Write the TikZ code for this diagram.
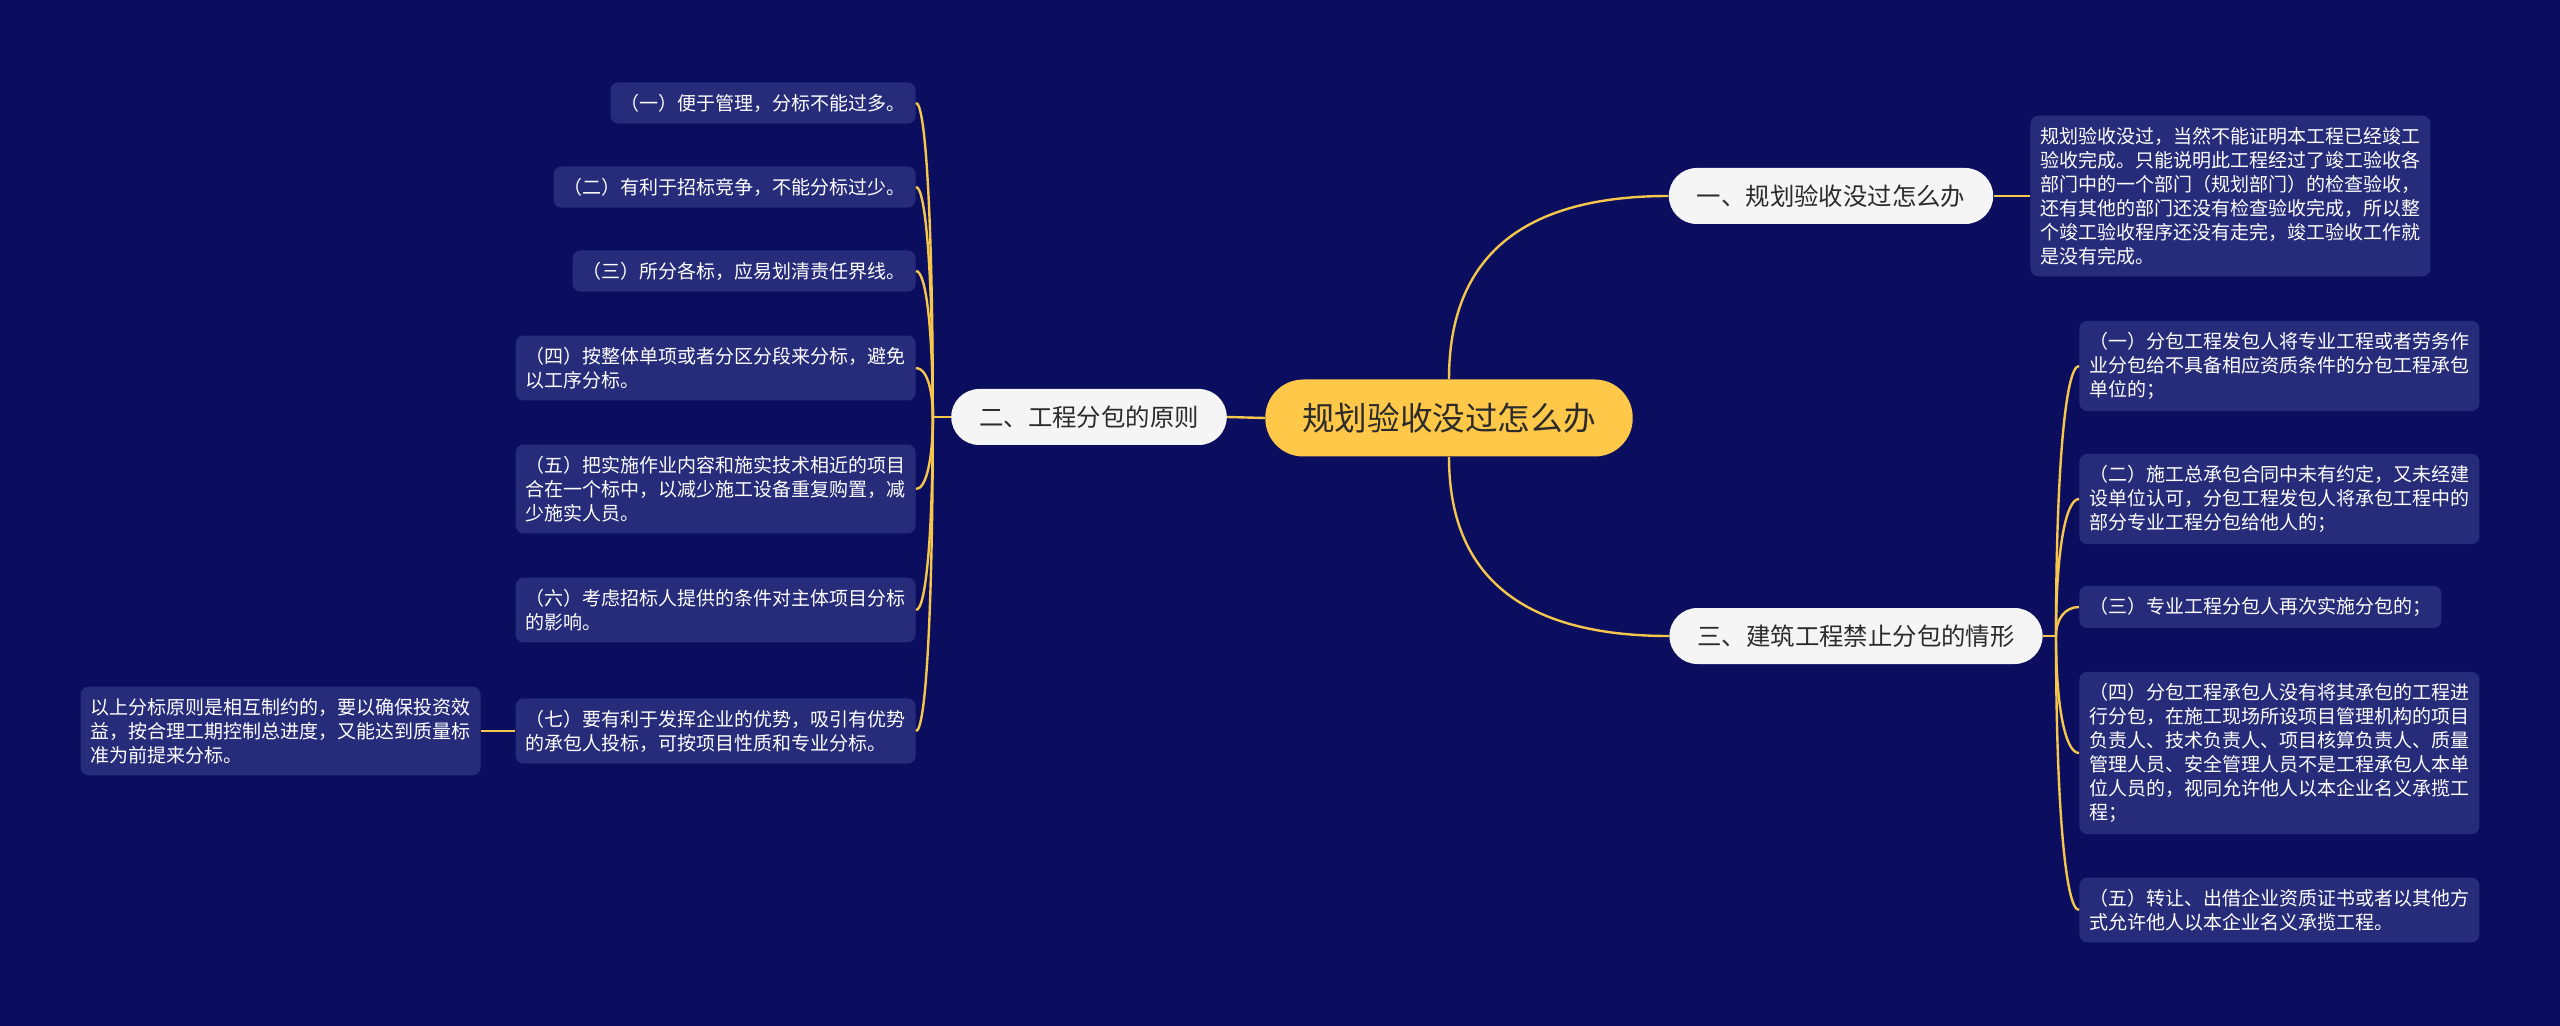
\documentclass[tikz,border=0pt]{standalone}
\usepackage{fontspec}
\setmainfont{Noto Sans CJK SC}
\usetikzlibrary{calc}

\definecolor{bgnavy}{HTML}{0B0E5E}
\definecolor{leafblue}{HTML}{272C7A}
\definecolor{linegold}{HTML}{F4C64C}
\definecolor{rootgold}{HTML}{FFC848}
\definecolor{darktext}{HTML}{2B2B2B}

\begin{document}
\begin{tikzpicture}[
    x=0.5pt, y=-0.5pt,
    rootnode/.style={fill=rootgold, text=darktext, rounded corners=19pt,
        inner xsep=18.5pt, minimum height=38.5pt,
        font=\fontsize{16.3pt}{20pt}\selectfont},
    topic/.style={fill=white!96!black, text=darktext, rounded corners=14pt,
        inner xsep=14pt, minimum height=28pt,
        font=\fontsize{12.2pt}{15pt}\selectfont},
    leaf/.style={fill=leafblue, text=white, rounded corners=4pt, align=left,
        inner xsep=5pt, inner ysep=5.75pt,
        font=\fontsize{9.5pt}{12pt}\selectfont},
    link/.style={draw=linegold, line width=1.2pt},
    soft elbow/.style={to path={
        .. controls ($(\tikztostart)!#1!(\tikztostart |- \tikztotarget)$)
        and ($(\tikztotarget)!#1!(\tikztostart |- \tikztotarget)$)
        .. (\tikztotarget)}},
    soft elbow/.default=0.667
]

% background, fixes the page size
\fill[bgnavy] (0,0) rectangle (2560,1026);

% === Root and main topics ===
\node[rootnode] (root) at (1449,418) {规划验收没过怎么办};
\node[topic] (b1) at (1831,196) {一、规划验收没过怎么办};
\node[topic] (b2) at (1089,417) {二、工程分包的原则};
\node[topic] (b3) at (1856,636) {三、建筑工程禁止分包的情形};

\draw[link] (root.north) to[soft elbow] (b1.west);
\draw[link] (root.west) -- (b2.east);
\draw[link] (root.south) to[soft elbow] (b3.west);

% === Topic one ===
\node[leaf, anchor=west] (r0) at (2030,196) {规划验收没过，当然不能证明本工程已经竣工\\验收完成。只能说明此工程经过了竣工验收各\\部门中的一个部门（规划部门）的检查验收，\\还有其他的部门还没有检查验收完成，所以整\\个竣工验收程序还没有走完，竣工验收工作就\\是没有完成。};
\draw[link] (b1.east) -- (r0.west);

% === Topic two (left side) ===
\node[leaf, anchor=east] (l1) at (916,103) {（一）便于管理，分标不能过多。};
\node[leaf, anchor=east] (l2) at (916,187) {（二）有利于招标竞争，不能分标过少。};
\node[leaf, anchor=east] (l3) at (916,271) {（三）所分各标，应易划清责任界线。};
\node[leaf, anchor=east] (l4) at (916,368) {（四）按整体单项或者分区分段来分标，避免\\以工序分标。};
\node[leaf, anchor=east] (l5) at (916,489) {（五）把实施作业内容和施实技术相近的项目\\合在一个标中，以减少施工设备重复购置，减\\少施实人员。};
\node[leaf, anchor=east] (l6) at (916,610) {（六）考虑招标人提供的条件对主体项目分标\\的影响。};
\node[leaf, anchor=east] (l7) at (916,731) {（七）要有利于发挥企业的优势，吸引有优势\\的承包人投标，可按项目性质和专业分标。};
\node[leaf, anchor=east] (fl) at (481,731) {以上分标原则是相互制约的，要以确保投资效\\益，按合理工期控制总进度，又能达到质量标\\准为前提来分标。};

\coordinate (hub2) at ($(b2.west)+(-18,0)$);
\draw[link] (b2.west) -- (hub2);
\foreach \n in {l1,l2,l3,l4,l5,l6,l7}
    \draw[link] (hub2) to[soft elbow=0.6] (\n.east);
\draw[link] (l7.west) -- (fl.east);

% === Topic three (right side) ===
\node[leaf, anchor=west] (r1) at (2079,366) {（一）分包工程发包人将专业工程或者劳务作\\业分包给不具备相应资质条件的分包工程承包\\单位的；};
\node[leaf, anchor=west] (r2) at (2079,499) {（二）施工总承包合同中未有约定，又未经建\\设单位认可，分包工程发包人将承包工程中的\\部分专业工程分包给他人的；};
\node[leaf, anchor=west] (r3) at (2079,607) {（三）专业工程分包人再次实施分包的；};
\node[leaf, anchor=west] (r4) at (2079,753) {（四）分包工程承包人没有将其承包的工程进\\行分包，在施工现场所设项目管理机构的项目\\负责人、技术负责人、项目核算负责人、质量\\管理人员、安全管理人员不是工程承包人本单\\位人员的，视同允许他人以本企业名义承揽工\\程；};
\node[leaf, anchor=west] (r5) at (2079,910) {（五）转让、出借企业资质证书或者以其他方\\式允许他人以本企业名义承揽工程。};

\coordinate (hub3) at ($(b3.east)+(13,0)$);
\draw[link] (b3.east) -- (hub3);
\foreach \n in {r1,r2,r3,r4,r5}
    \draw[link] (hub3) to[soft elbow=0.6] (\n.west);

\end{tikzpicture}
\end{document}
